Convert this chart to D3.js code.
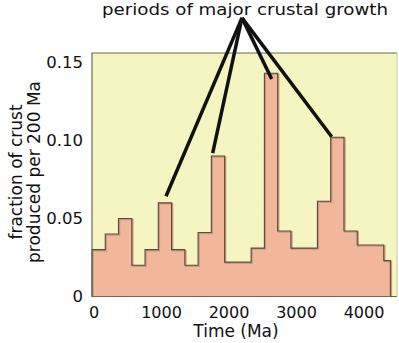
<!DOCTYPE html>
<html>
<head>
<meta charset="utf-8">
<script src="https://cdn.jsdelivr.net/npm/d3@7"></script>
<style>
  body { margin: 0; background: #fff; }
  text { font-family: "DejaVu Sans", sans-serif; fill: #111; }
</style>
</head>
<body>
<div id="chart"></div>
<script>
// bin start times (Ma), 200 Ma bins except the last one (100 Ma)
const binStart = [0, 200, 400, 600, 800, 1000, 1200, 1400, 1600, 1800, 2000, 2200,
                  2400, 2600, 2800, 3000, 3200, 3400, 3600, 3800, 4000, 4200, 4400];
const binEnd = 4500;
// fraction of crust produced per 200 Ma
const fraction = [0.030, 0.040, 0.050, 0.020, 0.030, 0.060, 0.030, 0.020, 0.041, 0.090, 0.022, 0.022,
                  0.031, 0.143, 0.042, 0.031, 0.031, 0.061, 0.102, 0.042, 0.033, 0.033, 0.023];

const xTicks = [0, 1000, 2000, 3000, 4000];
const yTicks = [0, 0.05, 0.10, 0.15];

// "periods of major crustal growth" pointers: from label to peaks
const pointerFrom = {t: 2262, v: 0.1785};
const pointerTo = [
  {t: 1116, v: 0.0642},
  {t: 1820, v: 0.0918},
  {t: 2710, v: 0.1393},
  {t: 3615, v: 0.1023}
];

const W = 399, H = 343;
const svg = d3.select("#chart").append("svg")
    .attr("width", W).attr("height", H);

const x = d3.scaleLinear().domain([0, 4600]).range([92, 397]);
const y = d3.scaleLinear().domain([0, 0.156]).range([296.5, 53]);
// hand placed tick labels are spread a bit wider than the bins
const xLab = d3.scaleLinear().domain([0, 4000]).range([94, 364]);

// plot background
svg.append("rect")
    .attr("x", x(0)).attr("y", y(0.156))
    .attr("width", x(4600) - x(0)).attr("height", y(0) - y(0.156))
    .attr("fill", "#f5f5c2");

// step histogram
const pts = binStart.map((t, i) => ({t: t, v: fraction[i]}));
pts.push({t: binEnd, v: fraction[fraction.length - 1]});

const area = d3.area()
    .x(d => x(d.t)).y0(y(0)).y1(d => y(d.v))
    .curve(d3.curveStepAfter);
svg.append("path")
    .datum(pts)
    .attr("d", area)
    .attr("fill", "#f2b69b");

const line = d3.line()
    .x(d => x(d.t)).y(d => y(d.v))
    .curve(d3.curveStepAfter);
const outline = [{t: 0, v: 0}].concat(pts, [{t: binEnd, v: 0}]);
// soft shadow then outline
svg.append("path")
    .datum(outline)
    .attr("d", line)
    .attr("transform", "translate(1,1)")
    .attr("fill", "none")
    .attr("stroke", "#c99a80")
    .attr("stroke-width", 1.5);
svg.append("path")
    .datum(outline)
    .attr("d", line)
    .attr("fill", "none")
    .attr("stroke", "#5a4a38")
    .attr("stroke-width", 1.1);

// frame
svg.append("path")
    .attr("d", `M${x(4600)},${y(0.156)}H${x(0)}V${y(0)}H${x(4600)}`)
    .attr("fill", "none")
    .attr("stroke", "#6e6a52")
    .attr("stroke-width", 1.2);
svg.append("line")
    .attr("x1", x(4600)).attr("x2", x(4600))
    .attr("y1", y(0.156)).attr("y2", y(0))
    .attr("stroke", "#c8c8a0");

// y tick labels
svg.selectAll(".ylab").data(yTicks).join("text")
    .attr("class", "ylab")
    .attr("x", 83).attr("y", d => y(d))
    .attr("dy", "0.36em")
    .attr("text-anchor", "end")
    .attr("font-size", 16.5)
    .text(d => d === 0 ? "0" : d3.format(".2f")(d));

// x tick labels
svg.selectAll(".xlab").data(xTicks).join("text")
    .attr("class", "xlab")
    .attr("x", d => xLab(d)).attr("y", 318)
    .attr("text-anchor", "middle")
    .attr("font-size", 16)
    .text(d => d);

// axis titles
svg.append("text")
    .attr("x", 236).attr("y", 337)
    .attr("text-anchor", "middle")
    .attr("font-size", 17)
    .text("Time (Ma)");

const yTitle = svg.append("text")
    .attr("transform", "translate(0,172) rotate(-90)")
    .attr("text-anchor", "middle")
    .attr("font-size", 17);
yTitle.append("tspan").attr("x", 0).attr("y", 22).text("fraction of crust");
yTitle.append("tspan").attr("x", 0).attr("y", 40).text("produced per 200 Ma");

// annotation
svg.append("text")
    .attr("x", 102).attr("y", 15)
    .attr("font-size", 16)
    .attr("textLength", 286)
    .attr("lengthAdjust", "spacingAndGlyphs")
    .text("periods of major crustal growth");

svg.selectAll(".pointer").data(pointerTo).join("line")
    .attr("class", "pointer")
    .attr("x1", x(pointerFrom.t)).attr("y1", y(pointerFrom.v))
    .attr("x2", d => x(d.t)).attr("y2", d => y(d.v))
    .attr("stroke", "#111")
    .attr("stroke-width", 3.5);
</script>
</body>
</html>
